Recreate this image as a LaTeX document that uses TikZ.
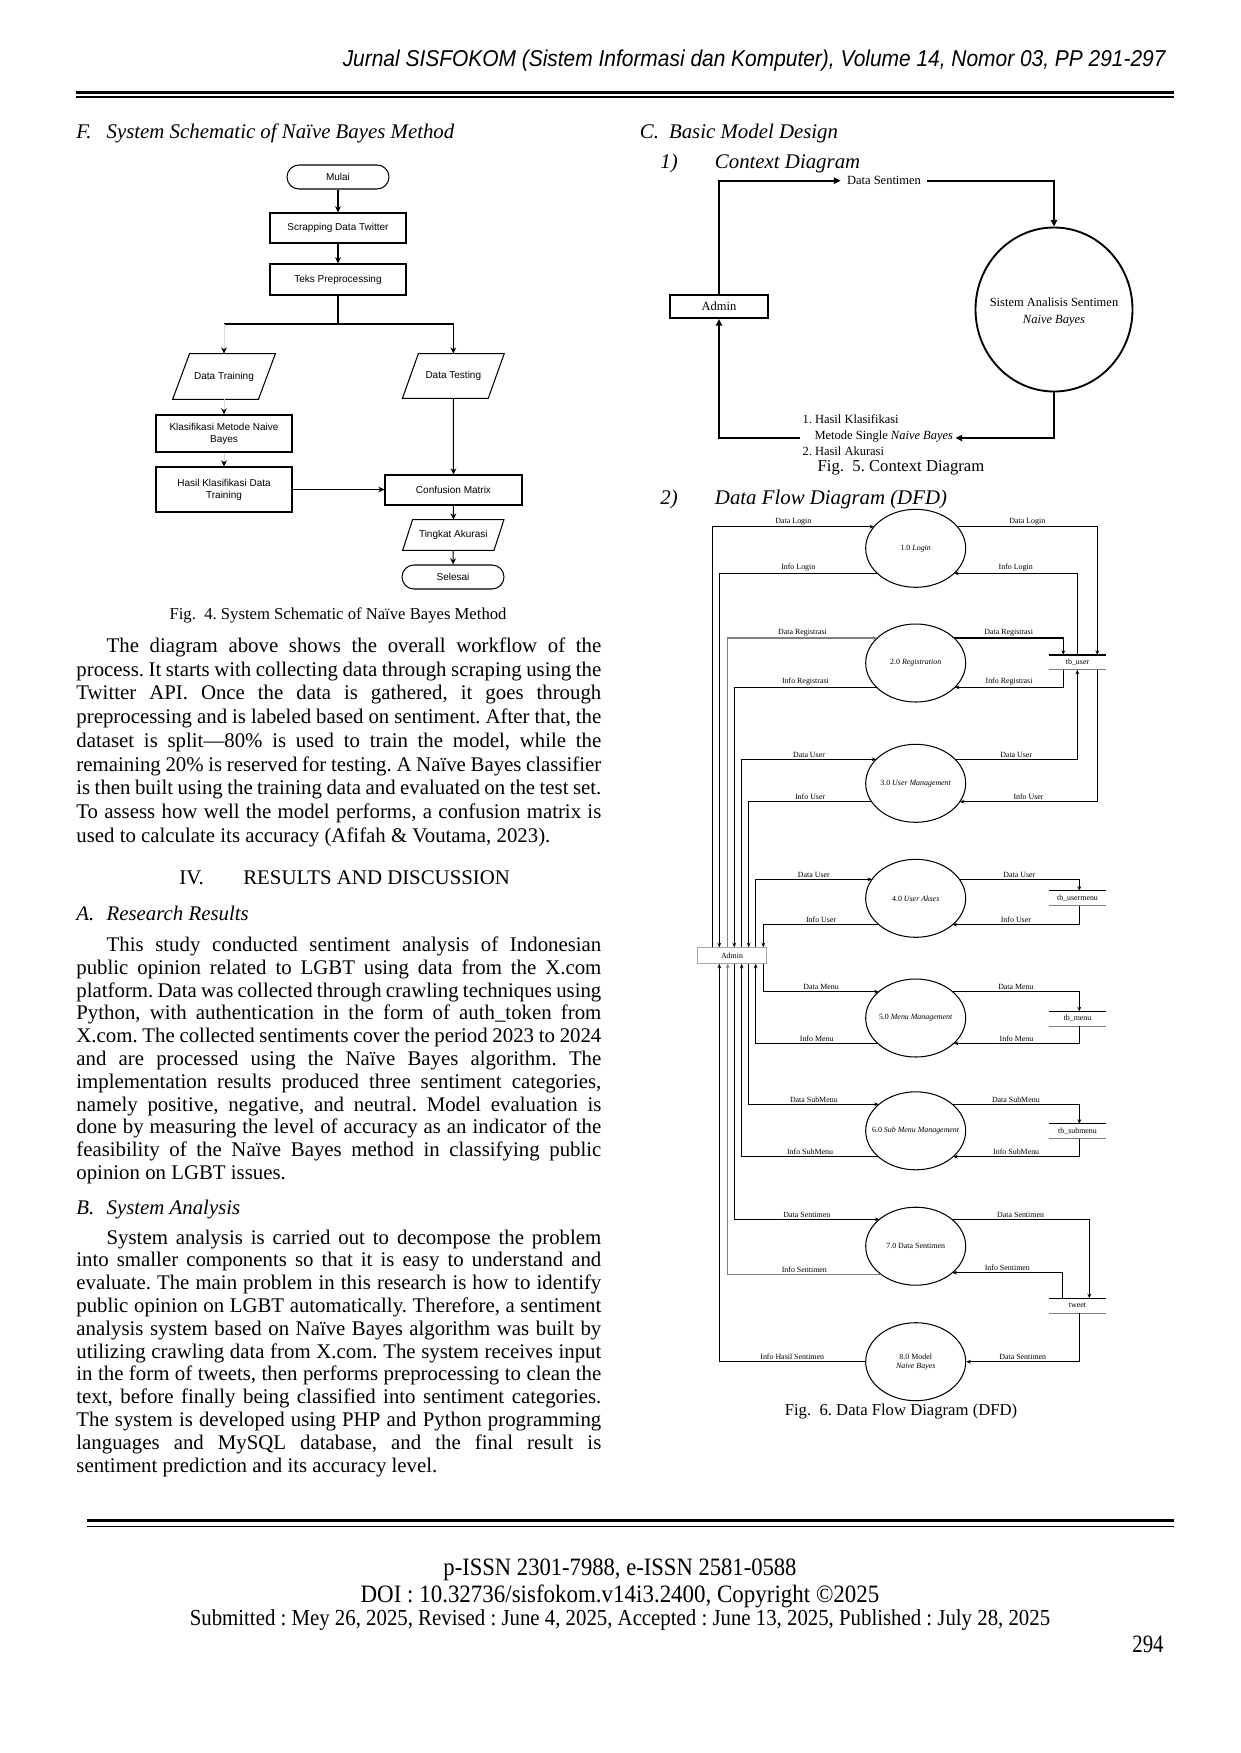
\documentclass[tikz,border=0pt]{standalone}
\usepackage{fontspec}
\usepackage{graphicx}
\setmainfont{Liberation Serif}
\newfontfamily\arialf{Liberation Sans}
\usetikzlibrary{arrows.meta,shapes.geometric,calc}
\frenchspacing
\newlength\pxu
\setlength\pxu{0.48006pt}
\newcommand\paral[2]{\draw[line width=0.5pt] ($(#1.south west)+(-#2,0)$) -- ($(#1.north west)+(#2,0)$) -- ($(#1.north east)+(#2,0)$) -- ($(#1.south east)+(-#2,0)$) -- cycle;}
\newcommand\bpt[4]{\coordinate (#1) at ($(#2)+(#3,#4)$);}
\begin{document}
\begin{tikzpicture}[x=0.48006pt,y=-0.48006pt,
  proc/.style={draw, line width=0.5pt, rectangle, minimum width=136\pxu, minimum height=30\pxu, inner sep=1pt, align=center, font=\arialf\fontsize{4.8}{5.8}\selectfont},
  term/.style={proc, rounded corners=12\pxu, minimum width=102\pxu, minimum height=24\pxu},
  iobox/.style={rectangle, minimum width=85\pxu, minimum height=45\pxu, inner sep=1pt, align=center, font=\arialf\fontsize{4.8}{5.8}\selectfont},
  farr/.style={line width=0.5pt, -{Stealth[length=3pt,width=2.8pt]}},
  ffaint/.style={line width=0.4pt, draw=gray!30, -{Stealth[length=3pt,width=2.8pt,color=black]}},
  fline/.style={line width=0.5pt},
  carr/.style={line width=0.9pt, -{Triangle[length=3.2pt,width=3pt]}},
  cadmst/.style={draw, line width=1pt, rectangle, minimum width=98\pxu, minimum height=23\pxu, inner sep=0pt, font=\fontsize{6}{7.2}\selectfont},
  df/.style={line width=0.5pt, -{Stealth[length=2.2pt,width=1.8pt]}},
  dfc/.style={ellipse, draw, line width=0.5pt, minimum width=100\pxu, minimum height=78\pxu, inner sep=0pt},
  ctext/.style={inner sep=0pt, align=center, font=\fontsize{3.8}{4.4}\selectfont},
  store/.style={rectangle, minimum width=57\pxu, minimum height=14\pxu, inner sep=0pt, font=\fontsize{3.8}{4.4}\selectfont},
  lbl/.style={anchor=south, inner sep=0.6pt, font=\fontsize{3.8}{4.4}\selectfont},
  figcap/.style={inner sep=0pt, font=\fontsize{8}{9.6}\selectfont},
  para/.style={anchor=north west, inner sep=0pt, text width=252pt, align=justify},
  hd/.style={anchor=base west, inner sep=0pt, font=\fontsize{10}{12}\selectfont}
]
\fill[white] (0,0) rectangle (1240,1753);
\useasboundingbox (0,0) rectangle (1240,1753);

% ---------- header ----------
\node[anchor=base east, inner sep=0pt] (hdr) at (1166,66) {\resizebox{395pt}{\height}{\arialf\itshape\fontsize{11}{13}\selectfont Jurnal SISFOKOM (Sistem Informasi dan Komputer), Volume 14, Nomor 03, PP 291-297}};
\draw[line width=3\pxu] (76,92.5) -- (1174,92.5);
\draw[line width=1.5\pxu] (76,96.8) -- (1174,96.8);

% ---------- headings ----------
\node[hd] (hF) at (76,138) {\itshape\makebox[14.5pt][l]{F.}System Schematic of Naïve Bayes Method};
\node[hd] (hC) at (639.5,138) {\itshape\makebox[14pt][l]{C.}Basic Model Design};
\node[hd] (h1) at (660,168.5) {\itshape\makebox[26.2pt][l]{1)}Context Diagram};
\node[hd] (h2) at (660,504.5) {\itshape\makebox[26.2pt][l]{2)}Data Flow Diagram (DFD)};
\node[hd] (hIV) at (179,884.5) {\makebox[30.7pt][l]{IV.}RESULTS AND DISCUSSION};
\node[hd] (hA) at (76,920.5) {\itshape\makebox[14.5pt][l]{A.}Research Results};
\node[hd] (hB) at (76,1214.7) {\itshape\makebox[14.5pt][l]{B.}System Analysis};

% ---------- paragraphs ----------
\node[para, font=\fontsize{10}{11.4}\selectfont] (p1) at (76,635.4) {\strut\hspace*{14.5pt}The diagram above shows the overall workflow of the\linebreak
process. It starts with collecting data through scraping using the\linebreak
Twitter API. Once the data is gathered, it goes through\linebreak
preprocessing and is labeled based on sentiment. After that, the\linebreak
dataset is split—80\% is used to train the model, while the\linebreak
remaining 20\% is reserved for testing. A Naïve Bayes classifier\linebreak
is then built using the training data and evaluated on the test set.\linebreak
To assess how well the model performs, a confusion matrix is\linebreak
used to calculate its accuracy (Afifah \& Voutama, 2023).};

\node[para, font=\fontsize{10}{10.95}\selectfont] (p2) at (76,935) {\strut\hspace*{14.5pt}This study conducted sentiment analysis of Indonesian\linebreak
public opinion related to LGBT using data from the X.com\linebreak
platform. Data was collected through crawling techniques using\linebreak
Python, with authentication in the form of auth\_token from\linebreak
X.com. The collected sentiments cover the period 2023 to 2024\linebreak
and are processed using the Naïve Bayes algorithm. The\linebreak
implementation results produced three sentiment categories,\linebreak
namely positive, negative, and neutral. Model evaluation is\linebreak
done by measuring the level of accuracy as an indicator of the\linebreak
feasibility of the Naïve Bayes method in classifying public\linebreak
opinion on LGBT issues.};

\node[para, font=\fontsize{10}{10.95}\selectfont] (p3) at (76,1227.7) {\strut\hspace*{14.5pt}System analysis is carried out to decompose the problem\linebreak
into smaller components so that it is easy to understand and\linebreak
evaluate. The main problem in this research is how to identify\linebreak
public opinion on LGBT automatically. Therefore, a sentiment\linebreak
analysis system based on Naïve Bayes algorithm was built by\linebreak
utilizing crawling data from X.com. The system receives input\linebreak
in the form of tweets, then performs preprocessing to clean the\linebreak
text, before finally being classified into sentiment categories.\linebreak
The system is developed using PHP and Python programming\linebreak
languages and MySQL database, and the final result is\linebreak
sentiment prediction and its accuracy level.};

% ---------- Fig 4 flowchart ----------
\node[term] (mulai) at (338,177) {Mulai};
\node[proc] (scrap) at (338,228) {Scrapping Data Twitter};
\node[proc, minimum height=31\pxu] (teks) at (338,279.5) {Teks Preprocessing};
\node[iobox] (dtrain) at (224,376.5) {Data Training};
\paral{dtrain}{8.5}
\node[iobox, minimum height=44\pxu] (dtest) at (453.3,376) {Data Testing};
\paral{dtest}{8}
\node[proc, minimum height=37\pxu] (klas) at (224,433.5) {Klasifikasi Metode Naive\\Bayes};
\node[proc, minimum height=45\pxu] (hasil) at (224,489.5) {Hasil Klasifikasi Data\\Training};
\node[proc, minimum width=137\pxu] (conf) at (453.5,490) {Confusion Matrix};
\node[iobox, minimum width=90.5\pxu, minimum height=30\pxu] (ting) at (453.3,535) {Tingkat Akurasi};
\paral{ting}{5}
\node[term] (selesai) at (453,577) {Selesai};
\coordinate (split) at (338,324);
\draw[farr] (mulai) -- (scrap);
\draw[farr] (scrap) -- (teks);
\draw[fline] (teks.south) -- (split);
\draw[farr] (split) -| (dtest.north);
\draw[fline] (split) -- (split -| dtrain.north);
\draw[ffaint] (split -| dtrain.north) -- (dtrain.north);
\draw[ffaint] (dtrain) -- (klas);
\draw[ffaint] (klas) -- (hasil);
\draw[farr] (hasil.east) -- (hasil.east -| conf.west);
\draw[farr] (dtest) -- (conf);
\draw[farr] (conf) -- (ting);
\draw[farr] (ting) -- (selesai);
\node[figcap] (cap4) at (338,615) {Fig.\ \ 4. System Schematic of Naïve Bayes Method};

% ---------- Fig 5 context diagram ----------
\node[cadmst] (cadm) at (719,306.5) {Admin};
\node[ellipse, draw, line width=0.9pt, minimum width=157\pxu, minimum height=164\pxu, inner sep=0pt] (sys) at (1054,309.5) {};
\node[inner sep=0pt, align=center, font=\fontsize{6}{7.7}\selectfont] (systxt) at (1054,312) {Sistem Analisis Sentimen\\\textit{Naive Bayes}};
\node[inner xsep=2.9pt, inner ysep=0pt, font=\fontsize{6}{7.2}\selectfont] (dsl) at (884,180.7) {Data Sentimen};
\draw[carr] (cadm.north) |- (dsl.west);
\draw[carr] (dsl.east) -| (sys.north);
\coordinate (cby) at (0,438);
\node[anchor=west, inner xsep=1pt, inner ysep=0pt, align=left, font=\fontsize{6}{7.7}\selectfont] (hk) at (800,435) {1. Hasil Klasifikasi\\\hspace*{5.8pt}Metode Single \textit{Naive Bayes}\\2. Hasil Akurasi};
\draw[carr] (sys.south) |- (hk.east |- cby);
\draw[carr] (hk.west |- cby) -| (cadm.south);
\node[figcap] (cap5) at (901,468) {Fig.\ \ 5. Context Diagram};

% ---------- Fig 6 DFD ----------
\node[dfc] (c1) at (915.7,548.3) {};
\node[dfc] (c2) at (915.7,663) {};
\node[dfc] (c3) at (915.7,783.3) {};
\node[dfc] (c4) at (915.7,898.3) {};
\node[dfc] (c5) at (915.7,1018) {};
\node[dfc] (c6) at (915.7,1130.8) {};
\node[dfc] (c7) at (915.7,1246.2) {};
\node[dfc] (c8) at (915.7,1361.7) {};
\node[ctext] at (c1) {1.0 \textit{Login}};
\node[ctext] at (c2) {2.0 \textit{Registration}};
\node[ctext] at (c3) {3.0 \textit{User Management}};
\node[ctext] at (c4) {4.0 \textit{User Akses}};
\node[ctext] at (c5) {5.0 \textit{Menu Management}};
\node[ctext] at (c6) {6.0 \textit{Sub Menu Management}};
\node[ctext] at (c7) {7.0 Data Sentimen};
\node[ctext] at (c8) {8.0 Model\\\textit{Naive Bayes}};

\node[draw=gray!70, line width=0.4pt, rectangle, minimum width=69.4\pxu, minimum height=15.6\pxu, inner sep=0pt, font=\fontsize{3.8}{4.4}\selectfont] (adm) at (732,955.5) {Admin};

\node[store] (su) at (1077.5,662.3) {tb\_user};
\node[store] (sum) at (1077.5,898.2) {tb\_usermenu};
\node[store] (smn) at (1077.5,1018.7) {tb\_menu};
\node[store] (ssb) at (1077.5,1131.2) {tb\_submenu};
\node[store] (stw) at (1077.5,1305.7) {tweet};
\foreach \s in {su,sum,smn,ssb,stw}{
  \draw[line width=0.6pt] (\s.north west) -- (\s.north east);
  \draw[line width=0.5pt, gray] (\s.south west) -- (\s.south east);
}

\coordinate (LA) at (712.7,0); \coordinate (LB) at (719.3,0);
\coordinate (LC) at (727.7,0); \coordinate (LD) at (734.3,0);
\coordinate (LE) at (741.7,0); \coordinate (LF) at (748.7,0);
\coordinate (LG) at (755.7,0); \coordinate (LH) at (763.3,0);
\coordinate (RA) at (1097.3,0); \coordinate (RB) at (1077.3,0);
\coordinate (RC) at (1063.3,0); \coordinate (RD) at (1079.3,0);
\coordinate (RE) at (1089.3,0); \coordinate (RF) at (1062.3,0);

\bpt{c1dl}{c1}{-41.6}{-21.6}\bpt{c1dr}{c1}{41.6}{-21.6}\bpt{c1il}{c1}{-38.4}{25}\bpt{c1ir}{c1}{38.4}{25}
\bpt{c2dl}{c2}{-38.4}{-25}\bpt{c2dr}{c2}{38.4}{-25}\bpt{c2il}{c2}{-39.1}{24.3}\bpt{c2ir}{c2}{39.1}{24.3}
\bpt{c3dl}{c3}{-39.4}{-24}\bpt{c3dr}{c3}{39.4}{-24}\bpt{c3il}{c3}{-44.1}{18.4}\bpt{c3ir}{c3}{44.1}{18.4}
\bpt{c4dl}{c4}{-43.6}{-19}\bpt{c4dr}{c4}{43.6}{-19}\bpt{c4il}{c4}{-36.8}{26.4}\bpt{c4ir}{c4}{36.8}{26.4}
\bpt{c5dl}{c5}{-36.9}{-26.3}\bpt{c5dr}{c5}{36.9}{-26.3}\bpt{c5il}{c5}{-38}{25.3}\bpt{c5ir}{c5}{38}{25.3}
\bpt{c6dl}{c6}{-36.7}{-26.5}\bpt{c6dr}{c6}{36.7}{-26.5}\bpt{c6il}{c6}{-37.4}{25.9}\bpt{c6ir}{c6}{37.4}{25.9}
\bpt{c7dl}{c7}{-36.2}{-26.9}\bpt{c7dr}{c7}{36.2}{-26.9}\bpt{c7il}{c7}{-34.7}{28.1}\bpt{c7ir}{c7}{36.7}{26.5}

% left side flows
\draw[df] (adm.north -| LA) |- node[lbl,pos=.75]{Data Login} (c1dl);
\draw[df] (c1il) -| node[lbl,pos=.25]{Info Login} (adm.north -| LB);
\draw[df, draw=gray] (adm.north -| LC) |- node[lbl,pos=.75, text=black]{Data Registrasi} (c2dl);
\draw[df] (c2il) -| node[lbl,pos=.25]{Info Registrasi} (adm.north -| LD);
\draw[df] (adm.north -| LE) |- node[lbl,pos=.75]{Data User} (c3dl);
\draw[df] (c3il) -| node[lbl,pos=.25]{Info User} (adm.north -| LF);
\draw[df] (adm.north -| LG) |- node[lbl,pos=.75]{Data User} (c4dl);
\draw[df] (c4il) -| node[lbl,pos=.25]{Info User} (adm.north -| LH);
\draw[df] (adm.south -| LH) |- node[lbl,pos=.75]{Data Menu} (c5dl);
\draw[df] (c5il) -| node[lbl,pos=.25]{Info Menu} (adm.south -| LG);
\draw[df] (adm.south -| LF) |- node[lbl,pos=.75]{Data SubMenu} (c6dl);
\draw[df] (c6il) -| node[lbl,pos=.25]{Info SubMenu} (adm.south -| LE);
\draw[df] (adm.south -| LD) |- node[lbl,pos=.75]{Data Sentimen} (c7dl);
\draw[df, draw=gray] (c7il) -| node[lbl,pos=.25, text=black]{Info Sentimen} (adm.south -| LC);
\draw[df] (c8.west) -| node[lbl,pos=.25]{Info Hasil Sentimen} (adm.south -| LB);

% right side flows
\draw[df] (c1dr) -| node[lbl,pos=.25]{Data Login} (su.north -| RA);
\draw[df] (su.north -| RB) |- node[lbl,pos=.75]{Info Login} (c1ir);
\draw[df] (c2dr) -| node[lbl,pos=.25]{Data Registrasi} (su.north -| RC);
\draw[df] (su.south -| RC) |- node[lbl,pos=.75]{Info Registrasi} (c2ir);
\draw[df] (c3dr) -| node[lbl,pos=.25]{Data User} (su.south -| RB);
\draw[df] (su.south -| RA) |- node[lbl,pos=.75]{Info User} (c3ir);
\draw[df] (c4dr) -| node[lbl,pos=.25]{Data User} (sum.north -| RD);
\draw[df] (sum.south -| RD) |- node[lbl,pos=.75]{Info User} (c4ir);
\draw[df] (c5dr) -| node[lbl,pos=.25]{Data Menu} (smn.north -| RD);
\draw[df] (smn.south -| RD) |- node[lbl,pos=.75]{Info Menu} (c5ir);
\draw[df] (c6dr) -| node[lbl,pos=.25]{Data SubMenu} (ssb.north -| RD);
\draw[df] (ssb.south -| RD) |- node[lbl,pos=.75]{Info SubMenu} (c6ir);
\draw[df] (c7dr) -| node[lbl,pos=.25]{Data Sentimen} (stw.north -| RE);
\draw[df] (stw.north -| RF) |- node[lbl,pos=.75]{Info Sentimen} (c7ir);
\draw[df] (stw.south -| RD) |- node[lbl,pos=.75]{Data Sentimen} (c8.east);

\node[figcap] (cap6) at (901,1411.7) {Fig.\ \ 6. Data Flow Diagram (DFD)};

% ---------- footer ----------
\draw[line width=3\pxu] (87,1520.7) -- (1174,1520.7);
\draw[line width=1.5\pxu] (87,1526.5) -- (1174,1526.5);
\node[inner sep=0pt] (f1) at (620,1570) {\resizebox{169.5pt}{\height}{\fontsize{12}{14}\selectfont p-ISSN 2301-7988, e-ISSN 2581-0588}};
\node[inner sep=0pt] (f2) at (620,1596) {\resizebox{249pt}{\height}{\fontsize{12}{14}\selectfont DOI : 10.32736/sisfokom.v14i3.2400, Copyright ©2025}};
\node[inner sep=0pt] (f3) at (620,1620) {\resizebox{413pt}{\height}{\fontsize{11}{13}\selectfont Submitted : Mey 26, 2025, Revised : June 4, 2025, Accepted : June 13, 2025, Published : July 28, 2025}};
\node[anchor=east, inner sep=0pt] (pg) at (1164,1644) {\resizebox{15pt}{\height}{\fontsize{12}{14}\selectfont 294}};
\end{tikzpicture}
\end{document}
